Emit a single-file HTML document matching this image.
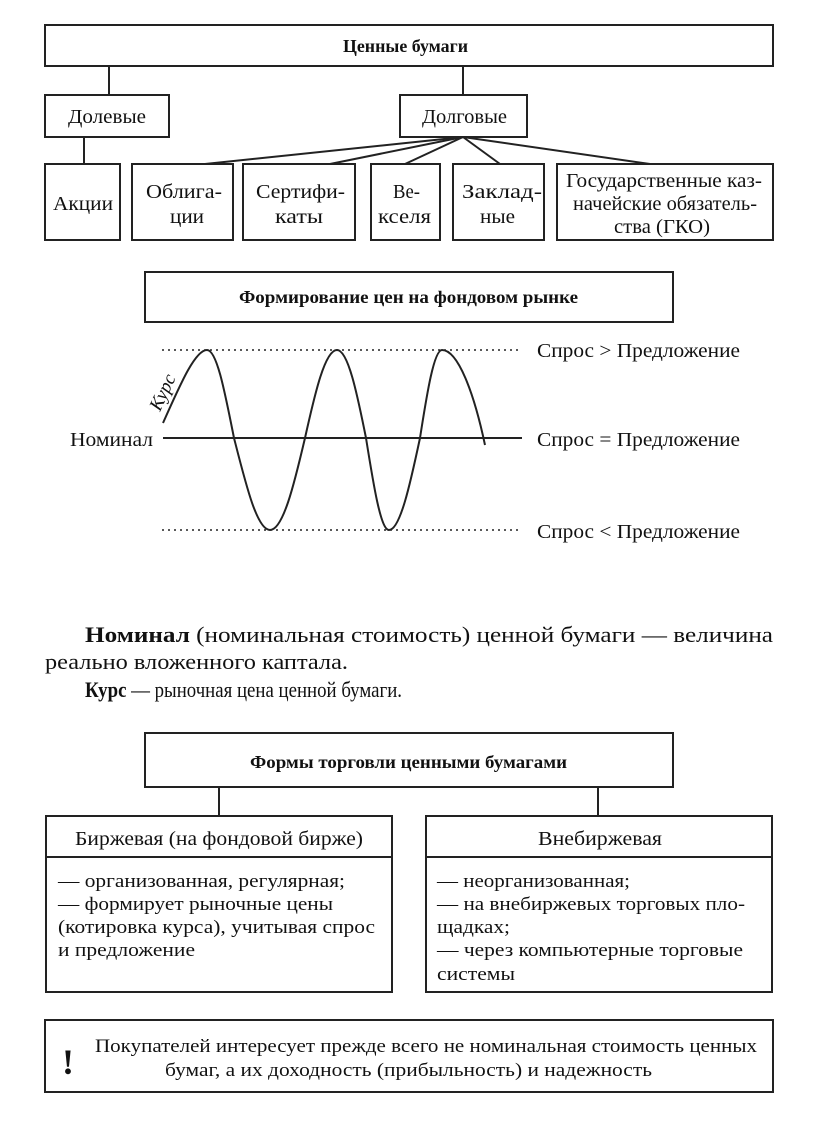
<!DOCTYPE html>
<html><head><meta charset="utf-8"><style>
html,body{margin:0;padding:0;background:#fff}
svg{display:block}
text{font-family:"Liberation Serif","Noto Serif CJK SC",serif;fill:#111}
.b{font-weight:bold}
</style></head><body>
<svg width="816" height="1134" viewBox="0 0 816 1134" xmlns="http://www.w3.org/2000/svg">
<g fill="none" stroke="#222" stroke-width="2">
<rect x="45" y="25" width="728" height="41"/>
<line x1="109" y1="66" x2="109" y2="95"/>
<line x1="463" y1="66" x2="463" y2="95"/>
<rect x="45" y="95" width="124" height="42"/>
<rect x="400" y="95" width="127" height="42"/>
<line x1="84" y1="137" x2="84" y2="164"/>
<line x1="463" y1="137" x2="205" y2="164"/>
<line x1="463" y1="137" x2="330" y2="164"/>
<line x1="463" y1="137" x2="405" y2="164"/>
<line x1="463" y1="137" x2="500" y2="164"/>
<line x1="463" y1="137" x2="650" y2="164"/>
<rect x="45" y="164" width="75" height="76"/>
<rect x="132" y="164" width="101" height="76"/>
<rect x="243" y="164" width="112" height="76"/>
<rect x="371" y="164" width="69" height="76"/>
<rect x="453" y="164" width="91" height="76"/>
<rect x="557" y="164" width="216" height="76"/>
<rect x="145" y="272" width="528" height="50"/>
<line x1="162" y1="350" x2="522" y2="350" stroke-dasharray="2,4" stroke-width="1.5"/>
<line x1="162" y1="530" x2="522" y2="530" stroke-dasharray="2,4" stroke-width="1.5"/>
<line x1="163" y1="438" x2="522" y2="438"/>
<path d="M163,423 C180,385 195,350 207,350 C217,350 225,393 234,438 C246,485 257,530 270,530 C283,530 294,485 305,438 C315,393 325,350 337,350 C348,350 357,393 366,438 C373.5,485 380.7,530 389,530 C400,530 410,485 420,438 C427,393 434,350 442,350 C458,350 474,393 485,445"/>
<rect x="145" y="733" width="528" height="54"/>
<line x1="219" y1="787" x2="219" y2="816"/>
<line x1="598" y1="787" x2="598" y2="816"/>
<rect x="46" y="816" width="346" height="176"/>
<line x1="46" y1="857" x2="392" y2="857"/>
<rect x="426" y="816" width="346" height="176"/>
<line x1="426" y1="857" x2="772" y2="857"/>
<rect x="45" y="1020" width="728" height="72"/>
</g>
<text class="b" x="343" y="52" font-size="18" textLength="125" lengthAdjust="spacingAndGlyphs">Ценные бумаги</text>
<text x="68" y="123" font-size="20" textLength="78" lengthAdjust="spacingAndGlyphs">Долевые</text>
<text x="422" y="123" font-size="20" textLength="85" lengthAdjust="spacingAndGlyphs">Долговые</text>
<text x="53" y="210" font-size="20" textLength="60" lengthAdjust="spacingAndGlyphs">Акции</text>
<text x="146" y="198" font-size="20" textLength="76" lengthAdjust="spacingAndGlyphs">Облига-</text>
<text x="170" y="223" font-size="20" textLength="34" lengthAdjust="spacingAndGlyphs">ции</text>
<text x="256" y="198" font-size="20" textLength="89" lengthAdjust="spacingAndGlyphs">Сертифи-</text>
<text x="275" y="223" font-size="20" textLength="48" lengthAdjust="spacingAndGlyphs">каты</text>
<text x="393" y="198" font-size="20" textLength="27" lengthAdjust="spacingAndGlyphs">Ве-</text>
<text x="378" y="223" font-size="20" textLength="53" lengthAdjust="spacingAndGlyphs">кселя</text>
<text x="462" y="198" font-size="20" textLength="80" lengthAdjust="spacingAndGlyphs">Заклад-</text>
<text x="480" y="223" font-size="20" textLength="35" lengthAdjust="spacingAndGlyphs">ные</text>
<text x="566" y="187" font-size="20" textLength="196" lengthAdjust="spacingAndGlyphs">Государственные каз-</text>
<text x="573" y="210" font-size="20" textLength="184" lengthAdjust="spacingAndGlyphs">начейские обязатель-</text>
<text x="614" y="233" font-size="20" textLength="96" lengthAdjust="spacingAndGlyphs">ства (ГКО)</text>
<text class="b" x="239" y="303" font-size="18" textLength="339" lengthAdjust="spacingAndGlyphs">Формирование цен на фондовом рынке</text>
<text x="537" y="357" font-size="20" textLength="203" lengthAdjust="spacingAndGlyphs">Спрос &gt; Предложение</text>
<text x="537" y="446" font-size="20" textLength="203" lengthAdjust="spacingAndGlyphs">Спрос = Предложение</text>
<text x="537" y="538" font-size="20" textLength="203" lengthAdjust="spacingAndGlyphs">Спрос &lt; Предложение</text>
<text x="70" y="446" font-size="20" textLength="83" lengthAdjust="spacingAndGlyphs">Номинал</text>
<text x="0" y="0" font-size="19" font-style="italic" transform="translate(160,412) rotate(-65)">Курс</text>
<text x="85" y="642" font-size="22" textLength="688" lengthAdjust="spacingAndGlyphs"><tspan class="b">Номинал</tspan> (номинальная стоимость) ценной бумаги — величина</text>
<text x="45" y="669" font-size="22" textLength="303" lengthAdjust="spacingAndGlyphs">реально вложенного каптала.</text>
<text x="85" y="697" font-size="22" textLength="317" lengthAdjust="spacingAndGlyphs"><tspan class="b">Курс</tspan> — рыночная цена ценной бумаги.</text>
<text class="b" x="250" y="768" font-size="18" textLength="317" lengthAdjust="spacingAndGlyphs">Формы торговли ценными бумагами</text>
<text x="75" y="845" font-size="20" textLength="288" lengthAdjust="spacingAndGlyphs">Биржевая (на фондовой бирже)</text>
<text x="538" y="845" font-size="20" textLength="124" lengthAdjust="spacingAndGlyphs">Внебиржевая</text>
<text x="58" y="887" font-size="19" textLength="287" lengthAdjust="spacingAndGlyphs">— организованная, регулярная;</text>
<text x="58" y="910" font-size="19" textLength="275" lengthAdjust="spacingAndGlyphs">— формирует рыночные цены</text>
<text x="58" y="933" font-size="19" textLength="317" lengthAdjust="spacingAndGlyphs">(котировка курса), учитывая спрос</text>
<text x="58" y="956" font-size="19" textLength="137" lengthAdjust="spacingAndGlyphs">и предложение</text>
<text x="437" y="887" font-size="19" textLength="193" lengthAdjust="spacingAndGlyphs">— неорганизованная;</text>
<text x="437" y="910" font-size="19" textLength="308" lengthAdjust="spacingAndGlyphs">— на внебиржевых торговых пло-</text>
<text x="437" y="933" font-size="19" textLength="73" lengthAdjust="spacingAndGlyphs">щадках;</text>
<text x="437" y="956" font-size="19" textLength="306" lengthAdjust="spacingAndGlyphs">— через компьютерные торговые</text>
<text x="437" y="980" font-size="19" textLength="78" lengthAdjust="spacingAndGlyphs">системы</text>
<text class="b" x="62" y="1074" font-size="36">!</text>
<text x="95" y="1052" font-size="19" textLength="662" lengthAdjust="spacingAndGlyphs">Покупателей интересует прежде всего не номинальная стоимость ценных</text>
<text x="165" y="1076" font-size="19" textLength="487" lengthAdjust="spacingAndGlyphs">бумаг, а их доходность (прибыльность) и надежность</text>
</svg>
</body></html>
